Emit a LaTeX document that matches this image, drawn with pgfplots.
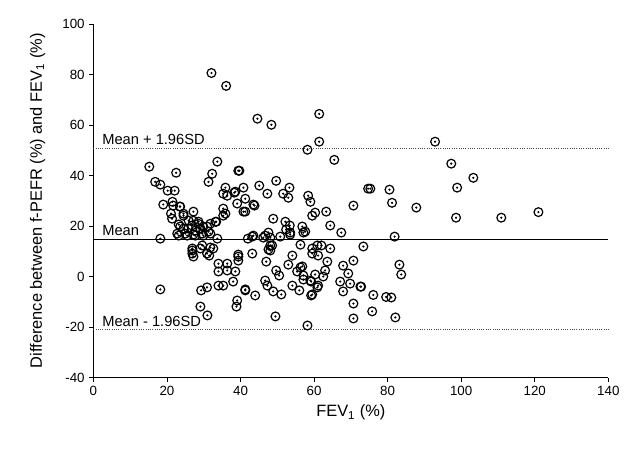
\documentclass[border=0pt]{standalone}
\usepackage{fontspec}
\setmainfont{Liberation Sans}
\usepackage{pgfplots}
\usepackage{pgfplotstable}
\pgfplotsset{compat=1.18}

% mean FEV1 vs difference (f-PEFR - FEV1)
\pgfplotstableread{
x y
32.1 80.6
36.1 75.5
44.6 62.5
48.4 60.1
61.4 64.4
61.4 53.4
58.2 50.2
65.5 46.2
92.9 53.4
97.3 44.7
103.3 39.1
98.9 35.2
98.6 23.3
110.9 23.3
121.0 25.5
87.8 27.3
75.3 34.8
80.5 34.4
81.2 29.2
70.7 28.1
81.9 15.8
73.4 11.9
83.2 4.7
83.7 0.8
72.8 -4.0
76.1 -7.3
79.6 -8.1
81.0 -8.3
75.8 -13.8
82.1 -16.2
70.7 -16.6
70.7 -10.7
58.2 -19.4
49.5 -15.8
31.0 -15.4
29.1 -11.9
38.9 -11.9
39.1 -9.5
18.2 -5.1
15.2 43.5
22.5 41.1
16.8 37.5
18.2 36.4
20.2 34.0
22.1 34.0
19.0 28.5
21.5 29.6
23.5 27.7
21.1 24.9
21.4 22.9
24.5 24.9
27.2 25.7
25.9 22.1
23.2 20.6
24.5 19.0
26.8 20.2
28.6 21.7
29.1 19.0
30.9 19.8
33.2 21.7
23.2 16.2
25.5 16.2
27.7 16.2
29.9 16.2
31.8 17.0
18.2 15.0
26.9 9.1
29.1 11.1
30.9 9.1
32.6 11.1
39.4 8.7
27.2 7.9
26.9 10.3
31.5 8.3
33.7 45.5
32.3 40.7
31.3 37.5
39.4 41.9
35.9 35.2
35.3 32.8
38.6 33.6
40.8 35.2
41.3 30.8
39.1 28.9
35.3 26.9
35.9 24.9
41.3 25.7
36.4 32.0
38.3 33.2
43.5 28.5
40.8 25.7
45.1 36.0
47.3 32.8
49.7 37.9
53.3 35.2
51.6 32.8
53.0 31.2
58.4 32.0
59.0 29.6
60.3 25.3
59.5 24.1
63.3 25.7
43.8 28.1
48.9 22.9
52.2 21.7
52.4 18.6
53.4 20.2
56.8 19.8
57.1 17.4
53.5 16.6
43.2 15.8
47.6 17.4
48.1 15.4
46.2 15.4
50.8 15.8
64.4 20.2
67.4 17.4
57.6 17.8
48.1 12.3
47.6 10.7
56.3 12.6
54.1 8.3
43.2 9.1
39.4 7.9
59.5 11.1
60.9 12.3
62.0 12.3
64.4 11.1
59.5 9.1
61.1 8.3
63.6 5.9
70.7 6.3
67.9 4.3
63.0 2.4
69.3 1.2
56.8 4.0
57.1 0.4
60.3 0.8
62.5 0.0
59.0 -1.6
61.1 -3.6
67.1 -2.0
69.8 -2.8
72.6 -4.0
67.9 -5.9
59.5 -7.1
47.0 5.9
53.0 4.7
56.3 3.6
55.4 2.0
49.7 2.4
50.5 0.4
57.1 -1.2
59.2 -2.0
46.7 -1.6
47.3 -3.6
54.1 -3.6
56.0 -5.5
48.9 -5.9
51.1 -7.1
60.9 -4.3
59.2 -7.5
41.3 -5.1
44.0 -7.5
34.0 5.1
36.4 5.1
39.4 6.3
34.0 2.0
36.4 2.4
38.6 2.0
29.3 -5.5
30.9 -4.3
34.0 -3.6
35.3 -3.6
38.0 -2.0
41.3 -5.5
39.7 41.9
42.0 15.0
21.7 28.1
23.6 27.7
24.5 24.1
27.2 22.1
28.5 20.9
23.6 19.8
25.8 19.0
27.7 18.2
29.9 19.8
31.8 20.9
33.4 21.7
22.8 17.0
25.0 17.0
27.2 16.6
29.6 17.0
31.3 17.8
26.9 11.1
29.6 12.3
31.8 11.5
33.7 15.0
35.3 24.1
43.5 16.2
46.7 16.2
48.6 12.3
48.1 10.3
53.5 17.4
74.7 34.8
}\bland

\begin{document}
\begin{tikzpicture}
\begin{axis}[
    scale only axis,
    width=386pt, height=265pt,
    xmin=0, xmax=140,
    ymin=-40, ymax=100,
    xtick={0,20,...,140},
    ytick={-40,-20,...,100},
    axis lines*=left,
    tick align=outside,
    major tick length=3pt,
    axis line style={line width=0.6pt},
    tick style={line width=0.6pt, black},
    tick label style={font=\fontsize{10}{12}\selectfont},
    /pgf/number format/assume math mode=true,
    xlabel={FEV\textsubscript{1} (\%)},
    ylabel={Difference between f-PEFR (\%) and FEV\textsubscript{1} (\%)},
    label style={font=\fontsize{12.3}{14}\selectfont},
    ylabel style={yshift=6pt},
    clip=false,
]
% limits of agreement
\addplot[black, line width=0.9pt] coordinates {(0,14.8) (140,14.8)};
\addplot[black!70, densely dotted, line width=0.7pt] coordinates {(0,50.8) (140,50.8)};
\addplot[black!70, densely dotted, line width=0.7pt] coordinates {(0,-21.0) (140,-21.0)};
\node[anchor=south west, inner sep=1pt, font=\fontsize{11}{12}\selectfont] at (axis cs:2,51.5) {Mean + 1.96SD};
\node[anchor=south west, inner sep=1pt, font=\fontsize{11}{12}\selectfont] at (axis cs:2,15.5) {Mean};
\node[anchor=south west, inner sep=1pt, font=\fontsize{11}{12}\selectfont] at (axis cs:2,-20.3) {Mean - 1.96SD};

% circled points with a centre dot
\addplot[only marks, mark=o, mark size=3.3pt, mark options={line width=0.9pt, black, fill=white}] table[x=x, y=y] {\bland};
\addplot[only marks, mark=*, mark size=0.6pt, black] table[x=x, y=y] {\bland};
\end{axis}
\useasboundingbox ([xshift=-70pt,yshift=-54pt]current axis.south west) rectangle ([xshift=26pt,yshift=18pt]current axis.north east);
\end{tikzpicture}
\end{document}
